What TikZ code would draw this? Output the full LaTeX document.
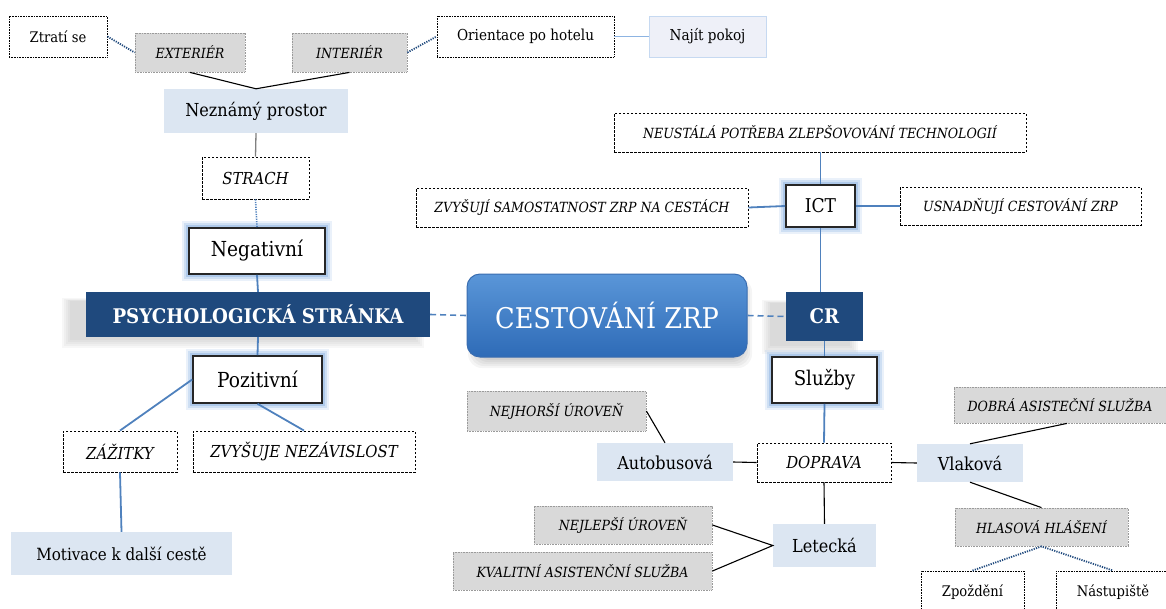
\documentclass[tikz,border=0pt]{standalone}
\usepackage{fontspec}
\setmainfont{DejaVu Serif Condensed}
\usetikzlibrary{calc}
\definecolor{dkblue}{HTML}{1F497D}
\definecolor{lnblue}{HTML}{4F81BD}
\definecolor{ltfill}{HTML}{DCE6F2}
\definecolor{grayfill}{HTML}{D9D9D9}
\definecolor{grayedge}{HTML}{9A9A9A}
\definecolor{glowc}{HTML}{8DB4E2}
\definecolor{najfill}{HTML}{EEF0F8}
\definecolor{najedge}{HTML}{C6D9F1}
\definecolor{najline}{HTML}{8DB4E2}
\definecolor{cestop}{HTML}{5A96D8}
\definecolor{cesbot}{HTML}{2E6BB7}
\definecolor{cesedge}{HTML}{3A6DB0}
\newcommand\fsz[1]{\fontsize{#1}{#1}\selectfont}
\begin{document}
\begin{tikzpicture}[x=1pt,y=-1pt,
 base/.style={inner sep=0pt, align=center},
 dashbox/.style={base, draw=black, dash pattern=on 2.5pt off 1.5pt, line width=0.9pt, fill=white},
 dotbox/.style={base, draw=black, dash pattern=on 0.8pt off 0.8pt, line width=0.9pt, fill=white},
 graybox/.style={base, fill=grayfill, draw=grayedge, dash pattern=on 0.8pt off 0.8pt, line width=0.8pt},
 fillbox/.style={base, fill=ltfill},
 glow/.style={preaction={draw=glowc,line width=14pt,opacity=0.18},preaction={draw=glowc,line width=10pt,opacity=0.3},preaction={draw=glowc,line width=6pt,opacity=0.5}},
 whitebox/.style={base, draw=black!85, line width=1.6pt, fill=white, glow},
 darkbox/.style={base, fill=dkblue, text=white, font=\fsz{20.2}\bfseries},
 sit/.style={font=\fsz{14}\itshape},
 mit/.style={font=\fsz{16.5}\itshape},
 blue line/.style={draw=lnblue, line width=1.8pt},
 black line/.style={draw=black, line width=1.1pt},
 dotline/.style={draw=dkblue, line width=1.8pt, dash pattern=on 1.2pt off 1.2pt},
 dashline/.style={draw=lnblue, line width=1.6pt, dash pattern=on 6pt off 4pt}]
\useasboundingbox (0,0) rectangle (1166,608);
% shadows
\foreach \d in {0,2,4,6,8}{
 \fill[black,opacity=0.03] (62+\d,298+\d*0.4) rectangle (424-\d,348-\d);
 \fill[black,opacity=0.03] (762+\d,300+\d*0.4) rectangle (858-\d,354-\d);
 \fill[black,opacity=0.04,rounded corners=14pt] (468+\d,278+\d*0.5) rectangle (752-\d,368-\d);
}
% nodes
\node[dotbox, font=\fsz{14.6}, minimum width=98pt, minimum height=41pt] (ztr) at (58,36.5) {Ztratí se};
\node[graybox, sit, minimum width=110pt, minimum height=39pt] (ext) at (190,52.5) {EXTERIÉR};
\node[graybox, sit, minimum width=115pt, minimum height=39pt] (int) at (349.5,52.5) {INTERIÉR};
\node[dotbox, font=\fsz{15.1}, minimum width=177pt, minimum height=41pt] (ori) at (525.5,36.5) {Orientace po hotelu};
\node[base, fill=najfill, draw=najedge, line width=0.8pt, font=\fsz{15.1}, minimum width=117pt, minimum height=41pt] (naj) at (707.5,36.5) {Najít pokoj};
\node[fillbox, font=\fsz{17.9}, minimum width=184pt, minimum height=44pt] (nez) at (256,111) {Neznámý prostor};
\node[dashbox, mit, minimum width=107pt, minimum height=42pt] (str) at (255.5,178) {STRACH};
\node[whitebox, font=\fsz{20.7}, minimum width=136pt, minimum height=46pt] (neg) at (257,251) {Negativní};
\node[darkbox, minimum width=344pt, minimum height=45pt] (psy) at (258,314.5) {PSYCHOLOGICKÁ STRÁNKA};
\node[base, rounded corners=13pt, top color=cestop, bottom color=cesbot, draw=cesedge, line width=1pt, text=white, font=\fsz{28.5}, minimum width=280pt, minimum height=83pt] (ces) at (607,315.5) {CESTOVÁNÍ ZRP};
\node[darkbox, minimum width=77pt, minimum height=49pt] (cr) at (824.5,316.5) {CR};
\node[whitebox, font=\fsz{19}, minimum width=69pt, minimum height=42pt] (ict) at (820.5,206) {ICT};
\node[dashbox, sit, minimum width=412pt, minimum height=39pt] (neu) at (820,132.5) {NEUSTÁLÁ POTŘEBA ZLEPŠOVOVÁNÍ TECHNOLOGIÍ};
\node[dashbox, sit, minimum width=332pt, minimum height=39pt] (zvy) at (582,207.5) {ZVYŠUJÍ SAMOSTATNOST ZRP NA CESTÁCH};
\node[dashbox, sit, minimum width=241pt, minimum height=38pt] (usn) at (1020.5,206) {USNADŇUJÍ CESTOVÁNÍ ZRP};
\node[whitebox, font=\fsz{20.2}, minimum width=105pt, minimum height=46pt] (slu) at (824.5,380) {Služby};
\node[whitebox, font=\fsz{20.7}, minimum width=129pt, minimum height=47pt] (poz) at (257.5,379.5) {Pozitivní};
\node[dashbox, mit, minimum width=114pt, minimum height=41pt] (zaz) at (120,451.5) {ZÁŽITKY};
\node[dashbox, mit, minimum width=222pt, minimum height=41pt] (zvn) at (304,451.5) {ZVYŠUJE NEZÁVISLOST};
\node[fillbox, font=\fsz{16.8}, minimum width=221pt, minimum height=43pt] (mot) at (121.5,553.5) {Motivace k další cestě};
\node[graybox, sit, minimum width=179pt, minimum height=40pt] (nejh) at (556.5,411) {NEJHORŠÍ ÚROVEŇ};
\node[fillbox, font=\fsz{17.9}, minimum width=136pt, minimum height=38pt] (aut) at (665,462) {Autobusová};
\node[dashbox, mit, minimum width=134pt, minimum height=39pt] (dop) at (824,462.5) {DOPRAVA};
\node[graybox, sit, minimum width=178pt, minimum height=38pt] (nejl) at (623,525) {NEJLEPŠÍ ÚROVEŇ};
\node[graybox, sit, minimum width=259pt, minimum height=38pt] (kval) at (582.5,571) {KVALITNÍ ASISTENČNÍ SLUŽBA};
\node[fillbox, font=\fsz{17.9}, minimum width=103pt, minimum height=43pt] (let) at (824.5,545.5) {Letecká};
\node[fillbox, font=\fsz{17.9}, minimum width=106pt, minimum height=38pt] (vla) at (970,463) {Vlaková};
\node[graybox, sit, minimum width=212pt, minimum height=36pt] (dob) at (1060,405) {DOBRÁ ASISTEČNÍ SLUŽBA};
\node[graybox, sit, minimum width=173pt, minimum height=38pt] (hla) at (1041.5,527) {HLASOVÁ HLÁŠENÍ};
\node[dotbox, font=\fsz{14.6}, minimum width=103pt, minimum height=42pt] (zpo) at (972.5,592) {Zpoždění};
\node[dotbox, font=\fsz{14.6}, minimum width=114pt, minimum height=42pt] (nas) at (1113,592) {Nástupiště};
% connectors
\draw[dotline] (ztr.east) -- (ext.west);
\draw[dotline] (int.east) -- (ori.west);
\draw[draw=najline, line width=0.9pt] (ori.east) -- (naj.west);
\draw[black line] (ext.south) -- (nez.north) -- (int.south);
\draw[draw=gray, line width=1.3pt] (nez.south) -- (str.north);
\draw[draw=lnblue, line width=1.6pt, dash pattern=on 1.2pt off 1.2pt] (str.south) -- (neg.north);
\draw[blue line] (neg.south) -- (psy.north);
\draw[blue line] (psy.south) -- (poz.north);
\draw[dashline] (psy.east) -- (ces.west);
\draw[dashline] (ces.east) -- (cr.west);
\draw[blue line] (ict.south) -- (ict.south |- cr.north);
\draw[blue line] (ict.north) -- (ict.north |- neu.south);
\draw[blue line] (ict.west) -- (zvy.east);
\draw[blue line] (ict.east) -- (usn.west);
\draw[blue line] (cr.south) -- (slu.north);
\draw[blue line] (slu.south) -- (dop.north);
\draw[black line] (dop.west) -- (aut.east);
\draw[black line] (dop.east) -- (vla.west);
\draw[black line] (dop.south) -- (let.north);
\draw[black line] (nejh.east) -- (aut.north);
\draw[black line] (nejl.east) -- (let.west) -- (kval.east);
\draw[black line] (vla.north) -- ($(dob.south)+(7,0)$);
\draw[black line] (vla.south) -- (hla.north);
\draw[dotline] (zpo.north) -- (hla.south) -- (nas.north);
\draw[blue line] (poz.west) -- (zaz.north);
\draw[blue line] (poz.south) -- (zvn.north);
\draw[blue line] (zaz.south) -- (mot.north);
\end{tikzpicture}
\end{document}
